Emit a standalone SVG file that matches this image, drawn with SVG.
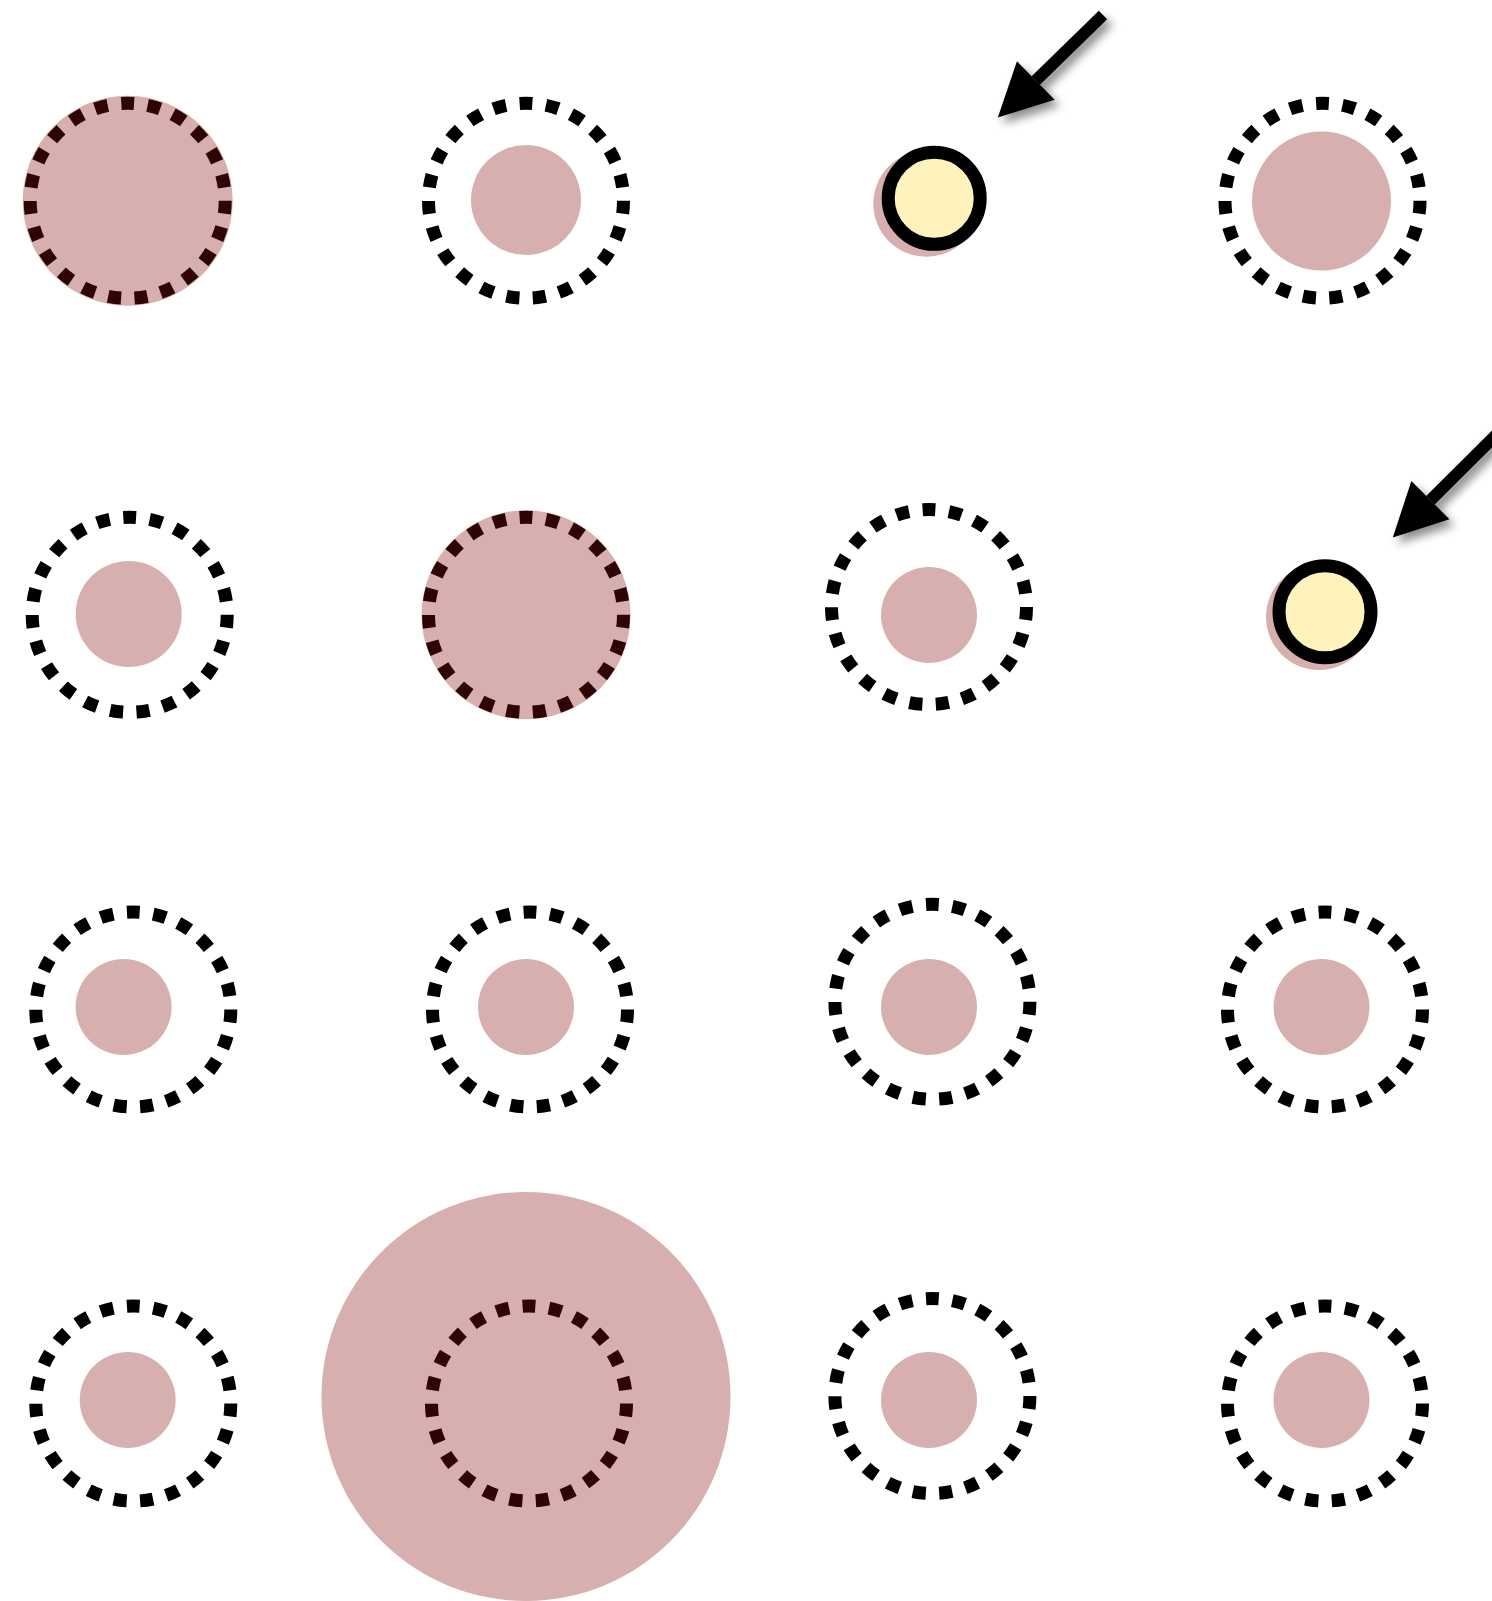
<svg xmlns="http://www.w3.org/2000/svg" width="1492" height="1601" viewBox="0 0 1492 1601">
<style>
.pink{fill:#d8afaf}
.ring{fill:none;stroke:#000;stroke-width:13;stroke-dasharray:13 13.6}
.ring.dark{stroke:#2e0404}
.yellow{fill:#fff3bd;stroke:#000;stroke-width:13}
.arrow{fill:none;stroke:#000;stroke-width:12}
</style>
<defs>
<marker id="head" markerUnits="userSpaceOnUse" viewBox="0 -27 53 54" markerWidth="53" markerHeight="54" refX="0" refY="0" orient="auto" overflow="visible">
<path d="M0,-27 L53,0 L0,27 z" fill="#000"/>
</marker>
<filter id="shadow" x="-30%" y="-30%" width="160%" height="160%">
<feDropShadow dx="5" dy="6" stdDeviation="5" flood-color="#000" flood-opacity="0.45"/>
</filter>
</defs>
<g id="n11"><circle class="pink" cx="127.7" cy="200.8" r="105"/><circle class="ring dark" cx="127.7" cy="200.8" r="97.5"/></g>
<g id="n21"><circle class="ring" cx="526" cy="200.7" r="97.5"/><circle class="pink" cx="526" cy="200" r="55"/></g>
<g id="n31"><circle class="pink" cx="926.3" cy="203.7" r="53"/><circle class="yellow" cx="934.2" cy="198.3" r="46"/></g>
<g id="n41"><circle class="ring" cx="1322.5" cy="200.7" r="97.5"/><circle class="pink" cx="1321.5" cy="201" r="69.5"/></g>
<g id="n12"><circle class="ring" cx="129.7" cy="614.8" r="97.5"/><circle class="pink" cx="128.7" cy="614" r="53"/></g>
<g id="n22"><circle class="pink" cx="526" cy="614.8" r="104.5"/><circle class="ring dark" cx="526" cy="614.8" r="97.5"/></g>
<g id="n32"><circle class="ring" cx="929" cy="607" r="97.5"/><circle class="pink" cx="929" cy="615" r="48"/></g>
<g id="n42"><circle class="pink" cx="1319" cy="617" r="53"/><circle class="yellow" cx="1325" cy="611.7" r="46"/></g>
<g id="n13"><circle class="ring" cx="133.3" cy="1009.5" r="97.5"/><circle class="pink" cx="123.6" cy="1007" r="48"/></g>
<g id="n23"><circle class="ring" cx="530" cy="1009.5" r="97.5"/><circle class="pink" cx="526" cy="1007" r="48"/></g>
<g id="n33"><circle class="ring" cx="932.4" cy="1001.8" r="97.5"/><circle class="pink" cx="929" cy="1007" r="48"/></g>
<g id="n43"><circle class="ring" cx="1325" cy="1009.5" r="97.5"/><circle class="pink" cx="1321.5" cy="1007" r="48"/></g>
<g id="n14"><circle class="ring" cx="133.3" cy="1403.6" r="97.5"/><circle class="pink" cx="127.7" cy="1400" r="48"/></g>
<g id="n24"><circle class="pink" cx="526" cy="1396.5" r="204.5"/><circle class="ring dark" cx="529" cy="1403.5" r="97.5"/></g>
<g id="n34"><circle class="ring" cx="932.4" cy="1396" r="97.5"/><circle class="pink" cx="929" cy="1400" r="48"/></g>
<g id="n44"><circle class="ring" cx="1325" cy="1403.6" r="97.5"/><circle class="pink" cx="1321.5" cy="1400" r="48"/></g>
<g id="connectors" filter="url(#shadow)">
<line class="arrow" x1="1103" y1="15" x2="1035.8" y2="80.5" marker-end="url(#head)"/>
<line class="arrow" x1="1500" y1="431" x2="1430.4" y2="500.2" marker-end="url(#head)"/>
</g>
</svg>
